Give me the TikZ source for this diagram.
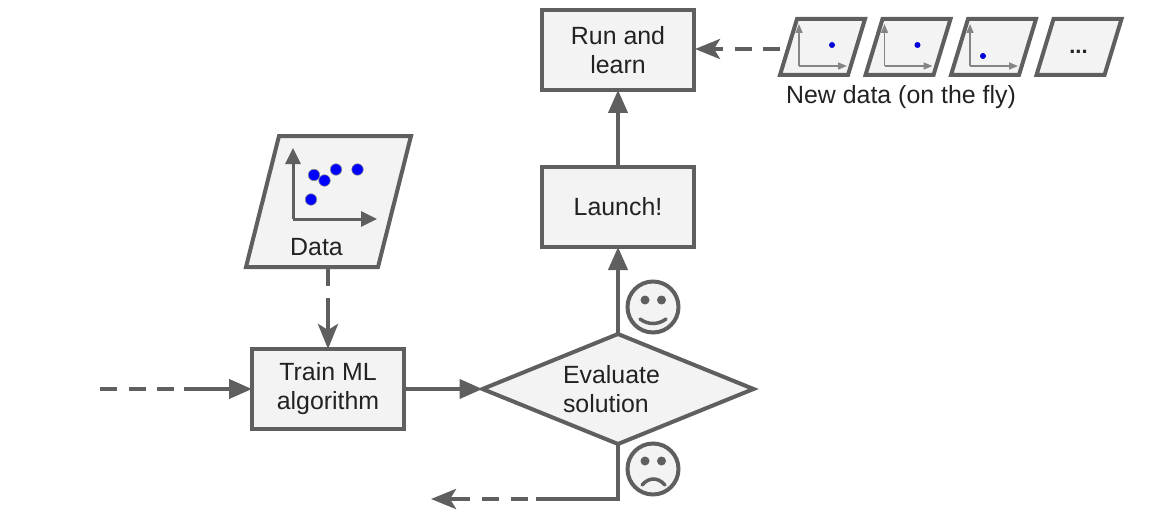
\documentclass[tikz,border=0pt]{standalone}
\usepackage{fontspec}
\setmainfont{Liberation Sans}
\usetikzlibrary{arrows.meta,shapes.geometric}
\definecolor{edgegray}{HTML}{5F5F5F}
\definecolor{axisgray}{HTML}{858585}
\definecolor{boxfill}{HTML}{F3F3F3}
\definecolor{inkdark}{HTML}{222222}
\newcommand{\smallsheet}[1]{\draw[sheetline] (#1,75) -- (#1+68,75) -- (#1+85,19) -- (#1+17,19) -- cycle;}
\tikzset{
  every node/.style={font=\fontsize{24.9}{29}\selectfont,text=inkdark,inner sep=0pt,outer sep=0pt},
  boxnode/.style={draw=edgegray,fill=boxfill,line width=4pt,minimum width=152pt,minimum height=80pt,align=center},
  evalshape/.style={diamond,draw=edgegray,fill=boxfill,line width=4pt,minimum width=271pt,minimum height=110pt},
  sheetline/.style={draw=edgegray,fill=boxfill,line width=4pt},
  conn/.style={draw=edgegray,line width=4pt},
  dashpart/.style={conn,dash pattern=on 17pt off 11.5pt},
  solidhead/.style={conn,-{Triangle[length=23pt,width=19pt]}},
  notchhead/.style={conn,-{Stealth[length=25pt,width=20pt,inset=6pt]}},
  bigaxis/.style={draw=edgegray,line width=3pt,-{Triangle[length=16pt,width=15pt]}},
  miniaxis/.style={draw=axisgray,line width=1.5pt,-{Triangle[length=9pt,width=7pt]}},
  bigdot/.style={circle,fill=blue,draw=edgegray!70,line width=.6pt,minimum size=11.5pt},
  minidot/.style={circle,fill=blue!85!black,minimum size=6pt},
  faceshape/.style={circle,draw=edgegray,fill=boxfill,line width=4pt,minimum size=51pt},
  eyeshape/.style={circle,fill=edgegray,minimum size=9pt},
  mouthline/.style={draw=edgegray,line width=3.5pt,line cap=round},
}
\begin{document}
\begin{tikzpicture}[x=1pt,y=-1pt]
\useasboundingbox (0,0) rectangle (1150,516);
% boxes
\node[boxnode] (run) at (618,50) {Run and\\learn};
\node[boxnode] (launch) at (618,207) {Launch!};
\node[boxnode] (train) at (328,389) {Train ML\\algorithm};
\node[evalshape] (eval) at (618,389) {};
\node[align=left,anchor=west] (evaltext) at (563,389) {Evaluate\\solution};
% big data sheet
\draw[sheetline] (246,267) -- (378,267) -- (411,136) -- (279,136) -- cycle;
\coordinate (databottom) at (328,269);
\node (datatext) at (316.5,247) {Data};
\coordinate (dy) at (293,219);
\coordinate (dytop) at (293,148);
\coordinate (dxend) at (377,219);
\draw[bigaxis] (dy) -- (dytop);
\draw[bigaxis] (dy) -- (dxend);
\node[bigdot] (d1) at (314,175) {};
\node[bigdot] (d2) at (324.5,180.5) {};
\node[bigdot] (d3) at (336,169.5) {};
\node[bigdot] (d4) at (357.5,169.5) {};
\node[bigdot] (d5) at (311,199.5) {};
% new data sheets
\smallsheet{780}
\smallsheet{865.5}
\smallsheet{951}
\smallsheet{1036.5}
\coordinate (a1) at (799,66); \coordinate (a1t) at (799,24); \coordinate (a1r) at (847,66);
\coordinate (a2) at (884.5,66); \coordinate (a2t) at (884.5,24); \coordinate (a2r) at (932.5,66);
\coordinate (a3) at (970,66); \coordinate (a3t) at (970,24); \coordinate (a3r) at (1018,66);
\draw[miniaxis] (a1) -- (a1t); \draw[miniaxis] (a1) -- (a1r);
\draw[miniaxis] (a2) -- (a2t); \draw[miniaxis] (a2) -- (a2r);
\draw[miniaxis] (a3) -- (a3t); \draw[miniaxis] (a3) -- (a3r);
\node[minidot] (m1) at (832,45) {};
\node[minidot] (m2) at (917.5,45) {};
\node[minidot] (m3) at (983,56) {};
\node[font=\fontsize{22}{24}\bfseries\selectfont] (dots) at (1078.5,52) {...};
\node (newdata) at (901,97) {New data (on the fly)};
% faces
\node[faceshape] (happy) at (653,307) {};
\node[eyeshape] (he1) at (645,300) {};
\node[eyeshape] (he2) at (661.5,300) {};
\coordinate (hm1) at (640,319); \coordinate (hm2) at (666,319);
\draw[mouthline] (hm1) .. controls (648,325) and (658,325) .. (hm2);
\node[faceshape] (sad) at (653,469) {};
\node[eyeshape] (se1) at (645,461) {};
\node[eyeshape] (se2) at (661.5,461) {};
\coordinate (sm1) at (642,485); \coordinate (sm2) at (665,485);
\draw[mouthline] (sm1) .. controls (649,477) and (658,477) .. (sm2);
% connectors
\coordinate (inA) at (100,389);
\coordinate (inB) at (184,389);
\draw[dashpart] (inA) -- (inB);
\draw[solidhead] (inB) -- (train.west);
\draw[solidhead] (train.east) -- (eval.west);
\draw[solidhead] (eval.north) -- (launch.south);
\draw[solidhead] (launch.north) -- (run.south);
\coordinate (dataB) at (328,315);
\draw[dashpart] (databottom) -- (dataB);
\coordinate (dataC) at (328,311);
\draw[notchhead] (dataC) -- (train.north);
\coordinate (newA) at (780,49);
\coordinate (newB) at (733,49);
\coordinate (newC) at (723,49);
\coordinate (runE) at (695,49);
\draw[dashpart] (newA) -- (newB);
\draw[notchhead] (newC) -- (runE);
\coordinate (rejC) at (618,499);
\coordinate (rejA) at (536,499);
\coordinate (rejB) at (480,499);
\coordinate (rejD) at (470,499);
\coordinate (rejE) at (431,499);
\draw[conn,line join=miter] (eval.south) -- (rejC) -- (rejA);
\draw[conn,dash pattern=on 17pt off 11.5pt,dash phase=20pt] (rejA) -- (rejB);
\draw[notchhead] (rejD) -- (rejE);
\end{tikzpicture}
\end{document}
